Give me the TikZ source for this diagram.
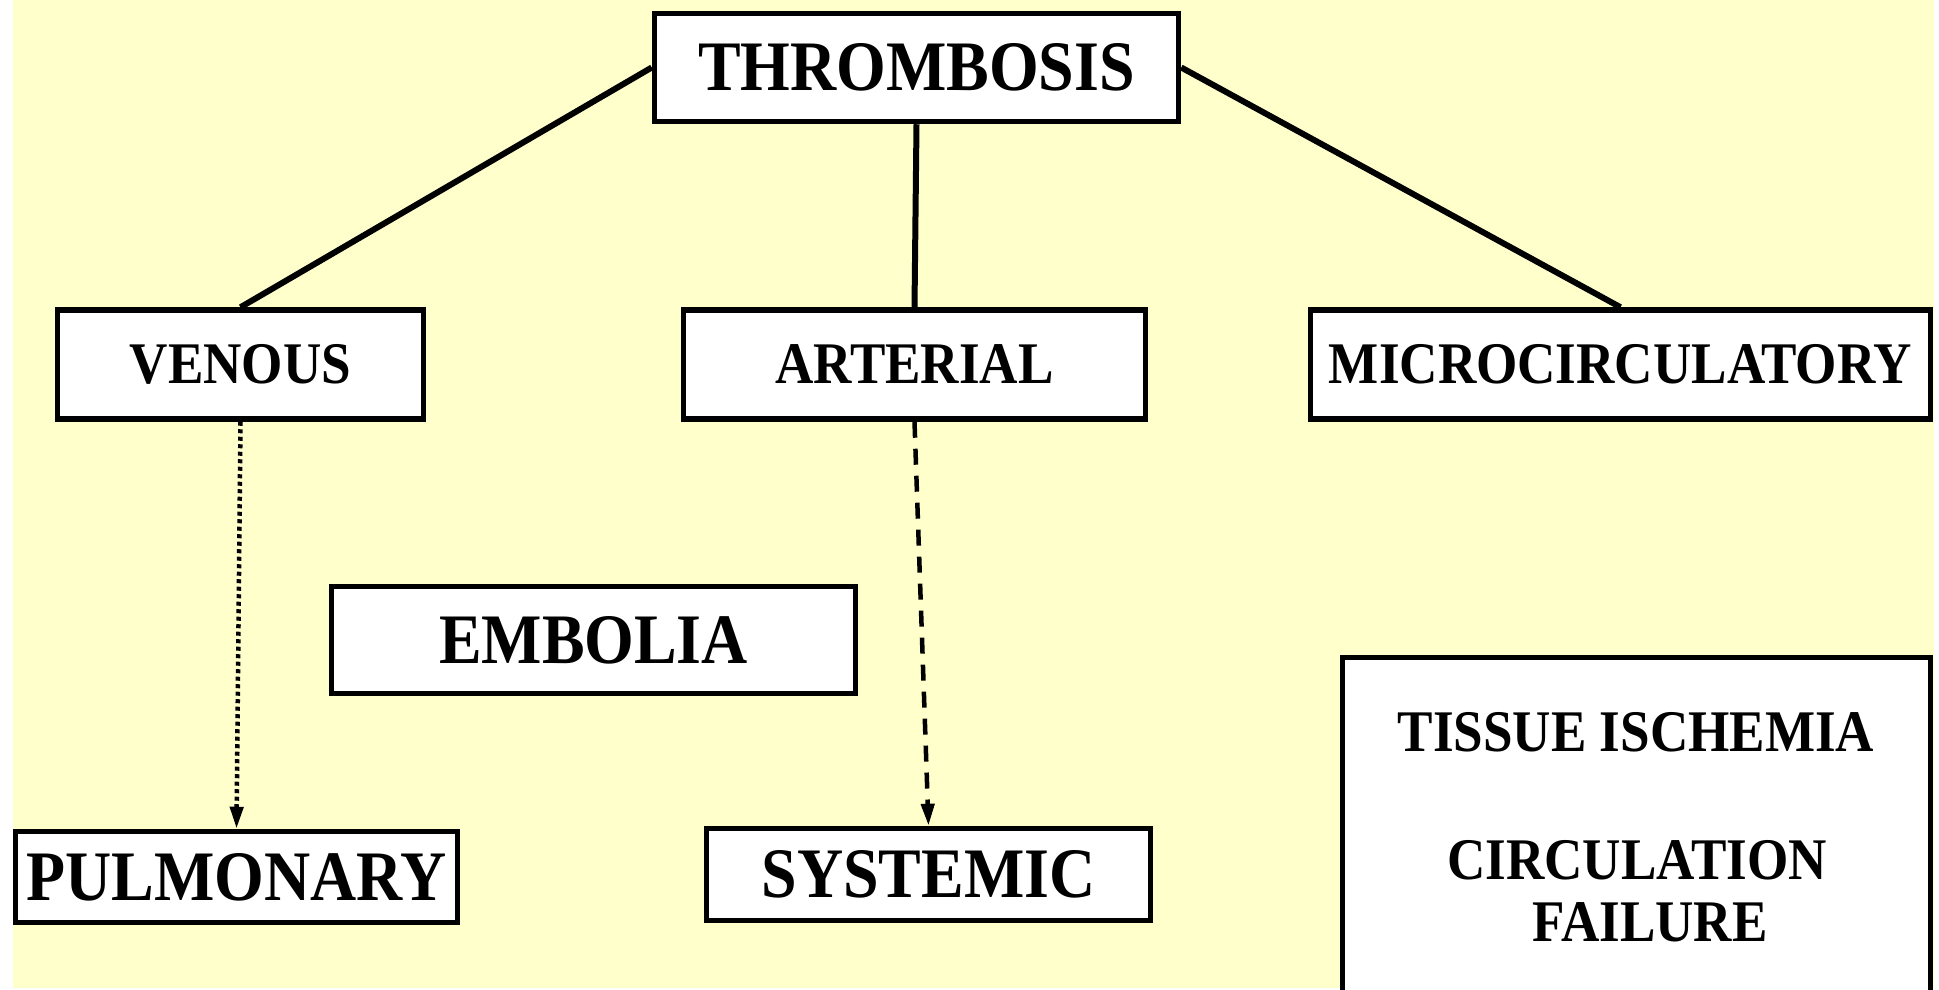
\documentclass[tikz,border=0pt]{standalone}
\usepackage{fontspec}
\newfontfamily\boxfont{Liberation Serif}[FakeStretch=0.9]
\usetikzlibrary{arrows.meta}
\definecolor{paper}{RGB}{255,255,204}
\begin{document}
\begin{tikzpicture}[x=0.5pt,y=-0.5pt,
  box/.style={draw=black, line width=2.75pt, fill=white, inner sep=0pt, text=black},
  boxsize/.style 2 args={minimum width=#1*0.5pt, minimum height=#2*0.5pt},
  bigtext/.style={font=\boxfont\bfseries\fontsize{35.5}{38}\selectfont},
  midtext/.style={font=\boxfont\bfseries\fontsize{29.5}{31}\selectfont},
  link/.style={draw=black, line width=3pt},
  dotlink/.style={draw=black, line width=2.25pt, dash pattern=on 2pt off 1.75pt,
    -{Triangle[length=11pt,width=6.5pt]}},
  dashlink/.style={draw=black, line width=2.25pt, dash pattern=on 8pt off 5.5pt,
    -{Triangle[length=11pt,width=6.5pt]}}]

% page frame and background
\useasboundingbox (0,0) rectangle (1939,990);
\clip (0,0) rectangle (1939,990);
\fill[paper] (13,0) rectangle (1934,988);

% boxes
\node[box,bigtext,boxsize={524}{108}] (thr) at (916.5,67.5) {THROMBOSIS};
\node[box,midtext,boxsize={366}{109}] (ven) at (240.5,364.5) {VENOUS};
\node[box,midtext,boxsize={462}{109}] (art) at (914.5,364.5) {ARTERIAL};
\node[box,midtext,boxsize={620}{109}] (mic) at (1620.5,364.5) {MICROCIRCULATORY};
\node[box,bigtext,boxsize={524}{107}] (emb) at (593.5,640) {EMBOLIA};
\node[box,bigtext,boxsize={442}{91}] (pul) at (236.5,877) {PULMONARY};
\node[box,bigtext,boxsize={444}{92}] (sys) at (928.5,874.5) {SYSTEMIC};
\node[box,boxsize={588}{360}] (tis) at (1636.5,837.5) {};
\node[midtext,anchor=base,inner sep=0pt] (tis1) at (1636,751) {TISSUE ISCHEMIA};
\node[midtext,anchor=base,inner sep=0pt] (tis2) at (1637,879) {CIRCULATION};
\node[midtext,anchor=base,inner sep=0pt] (tis3) at (1650,941) {FAILURE};

% connectors
\draw[link] (thr.west) -- (ven.north);
\draw[link] (thr.south) -- (art.north);
\draw[link] (thr.east) -- (mic.north);
\draw[dotlink] (ven.south) -- (pul.north);
\draw[dashlink] (art.south) -- (sys.north);
\end{tikzpicture}
\end{document}
